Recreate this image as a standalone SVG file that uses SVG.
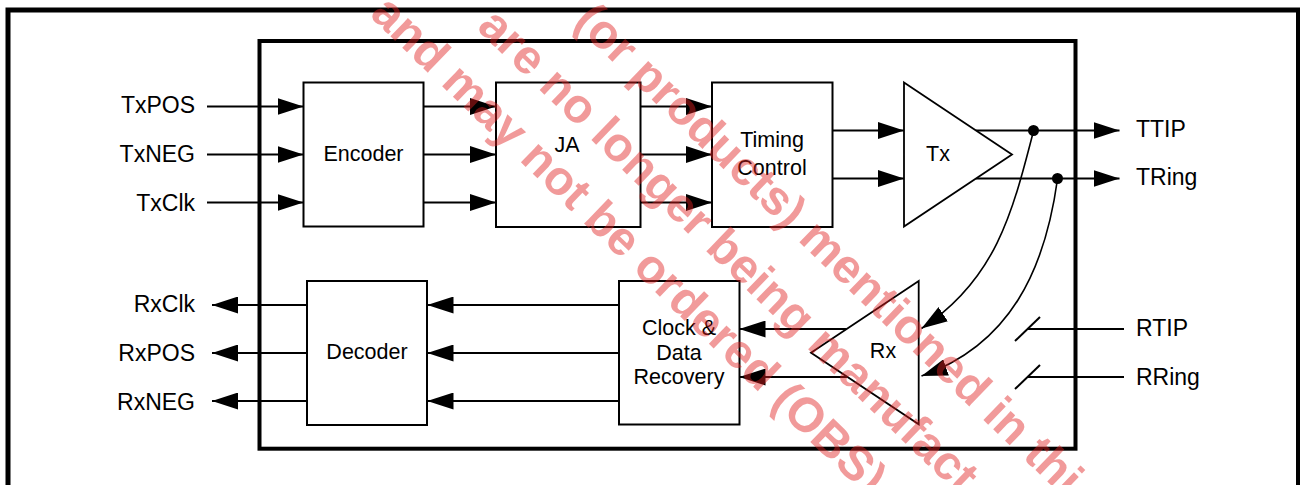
<svg xmlns="http://www.w3.org/2000/svg" width="1300" height="485" viewBox="0 0 1300 485">
<style>
.box{fill:#fff;stroke:#000;stroke-width:2}
.amp{fill:#fff;stroke:#000;stroke-width:1.8;stroke-linejoin:miter}
.w{fill:none;stroke:#000;stroke-width:2}
.cv{fill:none;stroke:#000;stroke-width:1.6}
.lbl{font-family:"Liberation Sans",Arial,sans-serif;font-size:23px;fill:#000}
.in{font-family:"Liberation Sans",Arial,sans-serif;font-size:21.5px;fill:#000;text-anchor:middle}
.wm{font-family:"Liberation Sans",Arial,sans-serif;font-size:48px;font-weight:bold;fill:#e01e1e;fill-opacity:0.45}
</style>
<defs>
<marker id="ah" markerUnits="userSpaceOnUse" markerWidth="26" markerHeight="17" viewBox="0 0 26 17" refX="26" refY="8.5" orient="auto">
<path d="M0,0 L26,8.5 L0,17 Z" fill="#000"/>
</marker>
</defs>
<rect x="0" y="0" width="1300" height="485" fill="#fff"/>
<rect id="outer" x="8" y="10" width="1290.5" height="520" fill="none" stroke="#000" stroke-width="5"/>
<rect id="chip" x="259.5" y="41" width="816" height="407.7" fill="none" stroke="#000" stroke-width="4"/>

<g id="connectors">
<line class="w" x1="207" y1="106.5" x2="303.5" y2="106.5" marker-end="url(#ah)"/>
<line class="w" x1="207" y1="154.5" x2="303.5" y2="154.5" marker-end="url(#ah)"/>
<line class="w" x1="207" y1="202.5" x2="303.5" y2="202.5" marker-end="url(#ah)"/>
<line class="w" x1="423.5" y1="106.5" x2="496" y2="106.5" marker-end="url(#ah)"/>
<line class="w" x1="423.5" y1="154.5" x2="496" y2="154.5" marker-end="url(#ah)"/>
<line class="w" x1="423.5" y1="202.5" x2="496" y2="202.5" marker-end="url(#ah)"/>
<line class="w" x1="640.5" y1="106.5" x2="712" y2="106.5" marker-end="url(#ah)"/>
<line class="w" x1="640.5" y1="154.5" x2="712" y2="154.5" marker-end="url(#ah)"/>
<line class="w" x1="640.5" y1="202.5" x2="712" y2="202.5" marker-end="url(#ah)"/>
<line class="w" x1="832.5" y1="130.5" x2="904" y2="130.5" marker-end="url(#ah)"/>
<line class="w" x1="832.5" y1="178.5" x2="904" y2="178.5" marker-end="url(#ah)"/>
<line class="w" x1="975.7" y1="130.5" x2="1119.5" y2="130.5" marker-end="url(#ah)"/>
<line class="w" x1="976" y1="178.5" x2="1119.5" y2="178.5" marker-end="url(#ah)"/>
<circle cx="1033.5" cy="130.5" r="5.5" fill="#000"/>
<circle cx="1057.5" cy="178.5" r="5.5" fill="#000"/>
<path class="cv" d="M1033.5,131 C1012,215 995,280 921.5,328.5" marker-end="url(#ah)"/>
<path class="cv" d="M1057.5,179 C1045,270 1010,345 921.5,376" marker-end="url(#ah)"/>
<line class="w" x1="846.6" y1="329" x2="739.5" y2="329" marker-end="url(#ah)"/>
<line class="w" x1="847" y1="377" x2="739.5" y2="377" marker-end="url(#ah)"/>
<line class="w" x1="619" y1="305" x2="427.5" y2="305" marker-end="url(#ah)"/>
<line class="w" x1="619" y1="353" x2="427.5" y2="353" marker-end="url(#ah)"/>
<line class="w" x1="619" y1="401" x2="427.5" y2="401" marker-end="url(#ah)"/>
<line class="w" x1="307" y1="305" x2="212" y2="305" marker-end="url(#ah)"/>
<line class="w" x1="307" y1="353" x2="212" y2="353" marker-end="url(#ah)"/>
<line class="w" x1="307" y1="401" x2="212" y2="401" marker-end="url(#ah)"/>
<line class="w" x1="1027" y1="329" x2="1124" y2="329"/>
<line class="w" x1="1027" y1="377" x2="1124" y2="377"/>
<line class="w" x1="1015" y1="341" x2="1040" y2="317"/>
<line class="w" x1="1015" y1="389" x2="1040" y2="365"/>
</g>

<g id="encoder"><rect class="box" x="303.5" y="82.5" width="120" height="144"/><text class="in" x="363.5" y="161">Encoder</text></g>
<g id="ja"><rect class="box" x="496" y="82.5" width="144.5" height="144.5"/><text class="in" x="567" y="152">JA</text></g>
<g id="timing"><rect class="box" x="712" y="82.5" width="120.5" height="144.5"/><text class="in" x="772" y="147">Timing</text><text class="in" x="772" y="175">Control</text></g>
<g id="tx"><path class="amp" d="M904,82.5 L1012,154.5 L904,226.5 Z"/><text class="in" x="938" y="161">Tx</text></g>
<g id="decoder"><rect class="box" x="307" y="281" width="120" height="144"/><text class="in" x="367" y="359">Decoder</text></g>
<g id="cdr"><rect class="box" x="619" y="281" width="120.5" height="143.5"/><text class="in" x="679" y="335">Clock &amp;</text><text class="in" x="679" y="359.5">Data</text><text class="in" x="679" y="384">Recovery</text></g>
<g id="rx"><path class="amp" d="M918.7,281 L811,352.7 L918.7,424.3 Z"/><text class="in" x="883" y="358">Rx</text></g>

<g id="pins-left">
<text class="lbl" x="195" y="113" text-anchor="end">TxPOS</text>
<text class="lbl" x="195" y="162" text-anchor="end">TxNEG</text>
<text class="lbl" x="195" y="211" text-anchor="end">TxClk</text>
<text class="lbl" x="195" y="312" text-anchor="end">RxClk</text>
<text class="lbl" x="195" y="361" text-anchor="end">RxPOS</text>
<text class="lbl" x="195" y="410" text-anchor="end">RxNEG</text>
</g>
<g id="pins-right">
<text class="lbl" x="1136" y="136.5">TTIP</text>
<text class="lbl" x="1136" y="184.5">TRing</text>
<text class="lbl" x="1136" y="336">RTIP</text>
<text class="lbl" x="1136" y="385">RRing</text>
</g>

<g id="watermark" transform="rotate(44)">
<text class="wm" x="428" y="-381">(or products) mentioned in thi</text>
<text class="wm" x="362" y="-310">are no longer being manufact</text>
<text class="wm" x="276" y="-245">and may not be ordered (OBS)</text>
</g>
</svg>
